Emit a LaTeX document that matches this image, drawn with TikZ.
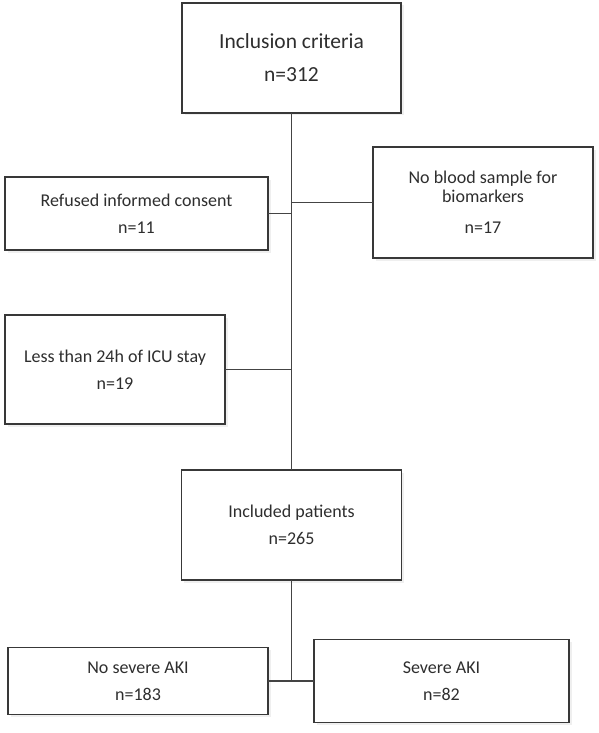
\documentclass[tikz,border=0pt]{standalone}
\usepackage{fontspec}
\setmainfont{Carlito}
\usetikzlibrary{shadows}
\definecolor{boxline}{HTML}{383838}
\definecolor{txt}{HTML}{2E2E2E}
\definecolor{conn}{HTML}{444444}
\begin{document}
\begin{tikzpicture}[x=1pt,y=-1pt,
  flowbox/.style={draw=boxline,line width=1.7pt,fill=white,inner sep=0pt,outer sep=0pt,
    align=center,text=txt,font=\fontsize{18}{27}\selectfont,
    drop shadow={opacity=0.12,shadow xshift=2.5pt,shadow yshift=-2.5pt}},
  conline/.style={draw=conn,line width=1.7pt}]
\useasboundingbox (0,0) rectangle (598,733);
\fill[white] (0,0) rectangle (598,733);
\node[flowbox,minimum width=219pt,minimum height=110pt,font=\fontsize{21.5}{33}\selectfont] (inc) at (291.5,58) {Inclusion criteria\\n=312};
\node[flowbox,minimum width=263pt,minimum height=73pt] (ref) at (136.5,213.5) {Refused informed consent\\n=11};
\node[flowbox,minimum width=220pt,minimum height=111pt,font=\fontsize{18}{18.5}\selectfont] (blood) at (483,202.5) {No blood sample for\\biomarkers\\[13pt]n=17};
\node[flowbox,minimum width=220pt,minimum height=109pt] (less) at (115,369.5) {Less than 24h of ICU stay\\n=19};
\node[flowbox,minimum width=220pt,minimum height=110pt] (incl) at (291.5,525) {Included patients\\n=265};
\node[flowbox,minimum width=260pt,minimum height=67pt] (nosev) at (138,681) {No severe AKI\\n=183};
\node[flowbox,minimum width=255pt,minimum height=83pt] (sev) at (441.5,681) {Severe AKI\\n=82};
\draw[conline] (inc.south) -- (incl.north);
\draw[conline] (ref.east) -- (ref.east -| inc.south);
\draw[conline] (blood.west) -- (blood.west -| inc.south);
\draw[conline] (less.east) -- (less.east -| inc.south);
\draw[conline] (incl.south) -- (incl.south |- nosev.east);
\draw[conline] (nosev.east) -- (nosev.east -| sev.west);
\end{tikzpicture}
\end{document}
